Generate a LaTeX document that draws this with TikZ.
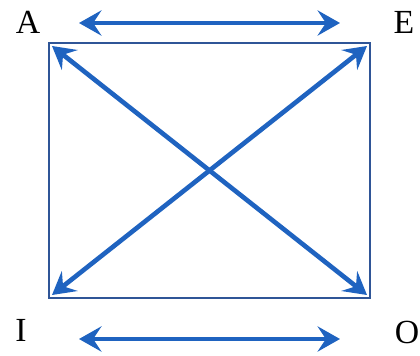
\documentclass[tikz,border=0pt]{standalone}
\usepackage{fontspec}
\setmainfont{Liberation Serif}
\usetikzlibrary{arrows.meta}
\definecolor{framecol}{HTML}{2F5597}
\definecolor{arrowcol}{HTML}{1F63C0}

\begin{document}
\begin{tikzpicture}[x=0.025cm,y=-0.025cm,
    lbl/.style={font=\fontsize{24}{28}\selectfont,inner sep=0pt},
    frame/.style={draw=framecol,line width=1.1pt},
    dbl/.style={arrowcol,line width=3.3pt,{Stealth[length=16pt,width=18pt,inset=6pt]}-{Stealth[length=16pt,width=18pt,inset=6pt]}}]
    \useasboundingbox (0,0) rectangle (420,355);
    \node[lbl] (A) at (28,22) {A};
    \node[lbl] (E) at (404,22) {E};
    \node[lbl] (I) at (21,330) {I};
    \node[lbl] (O) at (407,332) {O};
    \coordinate (cA) at (49,43);
    \coordinate (cE) at (370,43);
    \coordinate (cI) at (49,298);
    \coordinate (cO) at (370,298);
    \coordinate (t1) at (79,23);
    \coordinate (t2) at (340,23);
    \coordinate (b1) at (79,339);
    \coordinate (b2) at (340,339);
    \draw[frame] (cA) rectangle (cO);
    \path[dbl]
      (t1) edge (t2)
      (b1) edge (b2)
      ([shift={(3,3)}]cA) edge ([shift={(-3,-3)}]cO)
      ([shift={(-3,3)}]cE) edge ([shift={(3,-3)}]cI);
\end{tikzpicture}
\end{document}
